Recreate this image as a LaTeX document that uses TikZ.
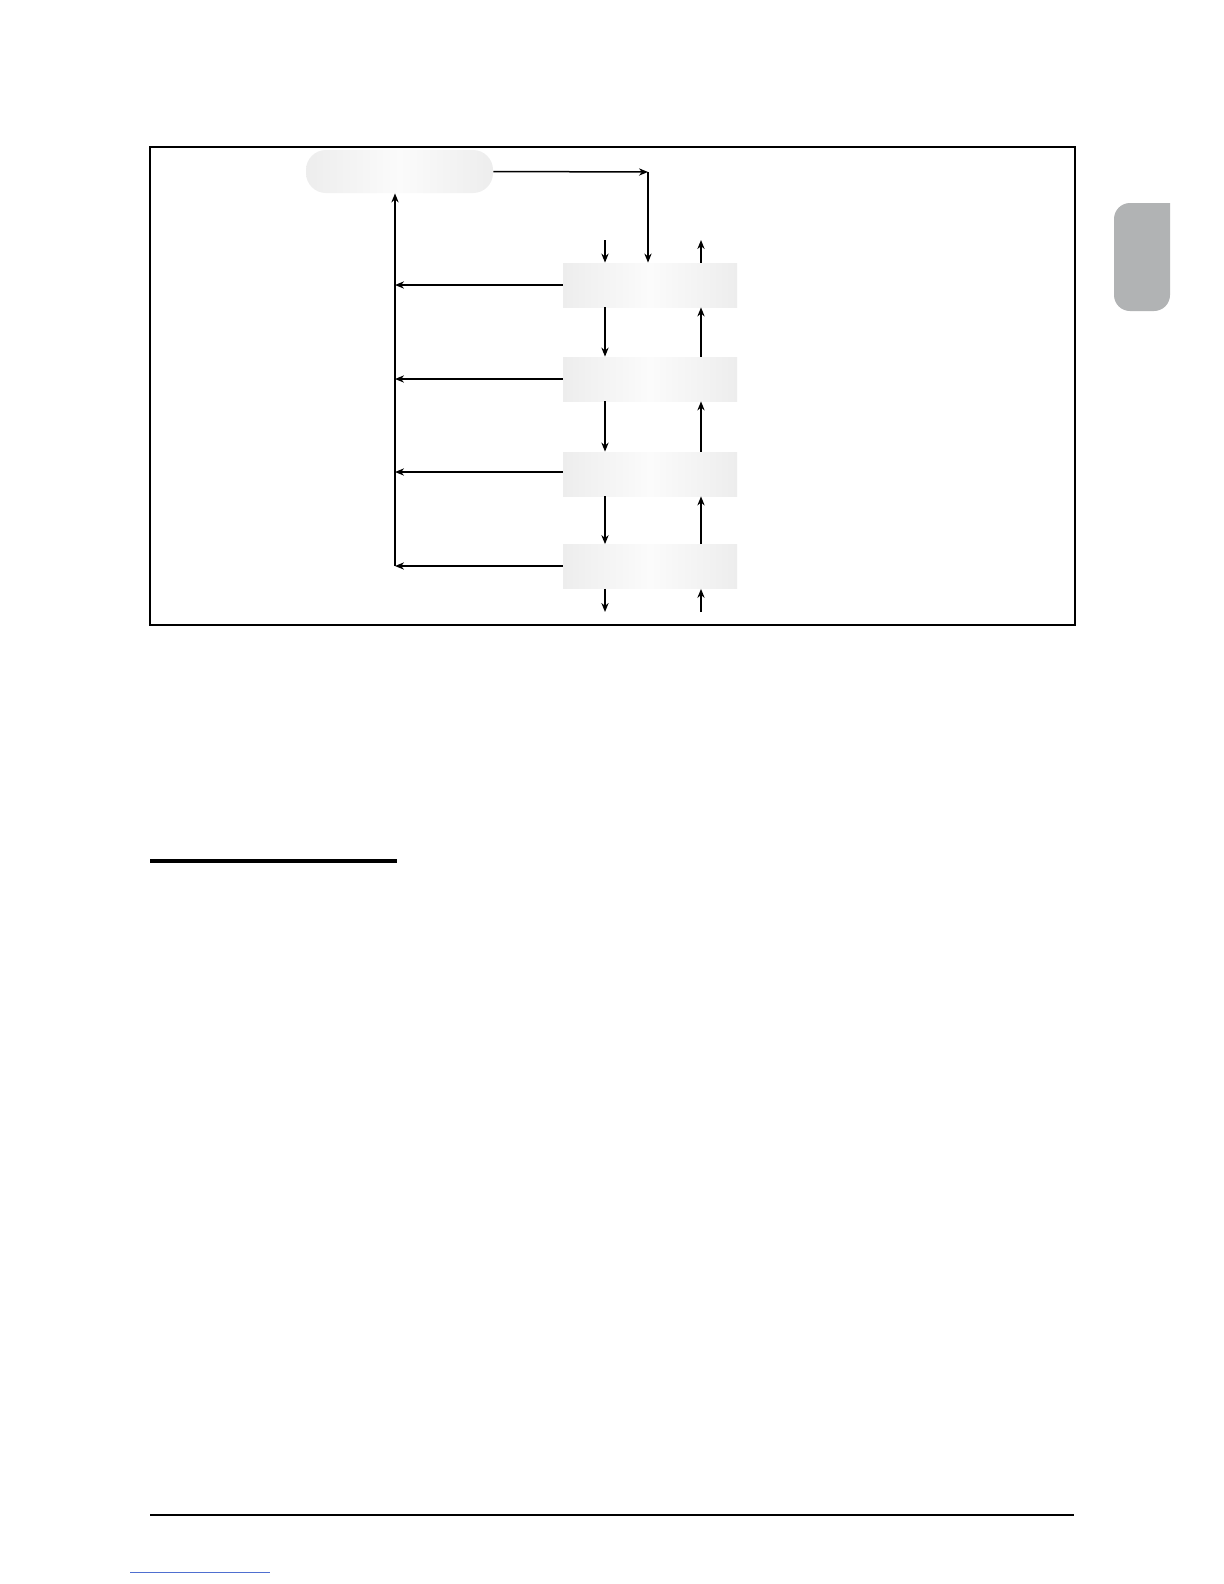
\documentclass[tikz,border=0pt]{standalone}
\usetikzlibrary{arrows.meta}
\definecolor{boxedge}{HTML}{EDEDED}
\definecolor{boxmid}{HTML}{FBFBFB}
\definecolor{tabgray}{HTML}{B1B3B4}
\definecolor{linkblue}{HTML}{4F6FD0}
\tikzset{
  conn/.style={line width=0.75bp, -{Stealth[length=4.5bp,width=3.6bp]}},
  stagebox/.style={draw=none, minimum width=174*0.5bp, minimum height=44*0.5bp,
    left color=boxedge, right color=boxedge, middle color=boxmid, inner sep=0pt},
  roundbox/.style={draw=none, minimum width=187*0.5bp, minimum height=43*0.5bp,
    rounded corners=10bp, left color=boxedge, right color=boxedge, middle color=boxmid, inner sep=0pt}
}
\begin{document}
\begin{tikzpicture}[x=0.5bp,y=-0.5bp]
\useasboundingbox (0,0) rectangle (1224,1584);
\fill[white] (0,0) rectangle (1224,1584);
% frame
\draw[line width=1.2bp] (150,147) rectangle (1075,625);
% tab
\fill[tabgray, rounded corners=8bp] (1170,203) -- (1114,203) -- (1114,311) -- (1170,311) [sharp corners] -- cycle;
% nodes
\node[roundbox] (top) at (399.5,171.5) {};
\node[stagebox] (b1) at (650,285) {};
\node[stagebox] (b2) at (650,379) {};
\node[stagebox] (b3) at (650,474) {};
\node[stagebox] (b4) at (650,566.5) {};
% coordinates
\coordinate (corner) at (648,172);
\coordinate (L1) at (395,285);
\coordinate (L2) at (395,379);
\coordinate (L3) at (395,472);
\coordinate (L4) at (395,566);
\coordinate (din) at (605,240);
\coordinate (uout) at (701,240);
\coordinate (dout) at (605,612);
\coordinate (uin) at (701,612);
% top to stage 1
\draw[conn] (top.east) -- (corner);
\draw[conn] (corner) -- (b1.north -| corner);
% stage outputs to left bus
\draw[conn] (b1.west) -- (L1);
\draw[conn] (b2.west) -- (L2);
\draw[conn] (b3.west |- L3) -- (L3);
\draw[conn] (b4.west |- L4) -- (L4);
\draw[conn] (L4) -- (top.south -| L4);
% downward chain
\draw[conn] (din) -- (b1.north -| din);
\draw[conn] (b1.south -| din) -- (b2.north -| din);
\draw[conn] (b2.south -| din) -- (b3.north -| din);
\draw[conn] (b3.south -| din) -- (b4.north -| din);
\draw[conn] (b4.south -| din) -- (dout);
% upward chain
\draw[conn] (b1.north -| uout) -- (uout);
\draw[conn] (b2.north -| uout) -- (b1.south -| uout);
\draw[conn] (b3.north -| uout) -- (b2.south -| uout);
\draw[conn] (b4.north -| uout) -- (b3.south -| uout);
\draw[conn] (uin) -- (b4.south -| uout);
% rules
\draw[line width=1.6bp] (150,861) -- (397,861);
\draw[line width=0.8bp] (150,1515) -- (1074,1515);
\draw[line width=0.5bp, linkblue] (130,1572) -- (270,1572);
\end{tikzpicture}
\end{document}
